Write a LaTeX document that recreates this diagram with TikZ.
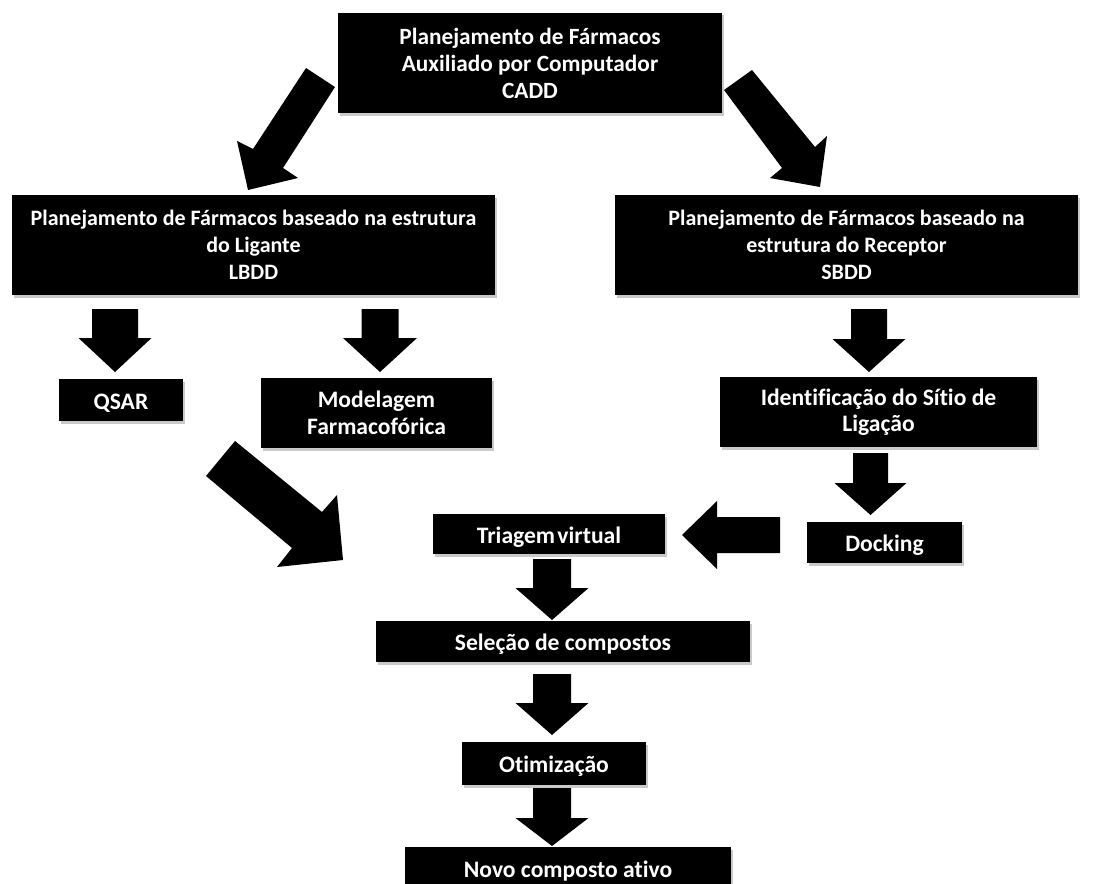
\documentclass[tikz,border=0pt]{standalone}
\usepackage{fontspec}
\setmainfont{Carlito}[Ligatures=NoCommon]
\usetikzlibrary{shadows}
\newcommand{\dn}[1]{\raisebox{-3pt}[\height][\depth]{#1}}
\tikzset{
  box/.style={fill=black, draw=none, text=white, align=center, inner sep=0pt,
    font=\fontsize{23.6}{26.5}\selectfont\bfseries,
    drop shadow={shadow xshift=2pt, shadow yshift=-2.5pt, opacity=0.35, fill=black!60}},
  bigbox/.style={box, font=\fontsize{22}{27}\selectfont\bfseries},
  topbox/.style={box, font=\fontsize{23.3}{27}\selectfont\bfseries},
  blk/.style={fill=black, draw=none}
}
% vertical down arrow: xc, top, base, tip, half shaft, half head
\newcommand{\downarr}[6]{%
  \fill[blk] (#1-#5,#2) -- (#1+#5,#2) -- (#1+#5,#3) -- (#1+#6,#3) -- (#1,#4)
    -- (#1-#6,#3) -- (#1-#5,#3) -- cycle;}
\begin{document}
\begin{tikzpicture}[x=1pt,y=-1pt]
\useasboundingbox (0,0) rectangle (1094,883);
\fill[white] (0,0) rectangle (1094,883);

% boxes
\node[topbox, minimum width=384pt, minimum height=100pt] (cadd) at (530,63)
  {Planejamento de Fármacos\\Auxiliado por Computador\\CADD};
\node[bigbox, minimum width=483pt, minimum height=100pt] (lbdd) at (253.5,245)
  {Planejamento de Fármacos baseado na estrutura\\do Ligante\\LBDD};
\node[bigbox, minimum width=463pt, minimum height=100pt] (sbdd) at (846.5,245)
  {Planejamento de Fármacos baseado na\\estrutura do Receptor\\SBDD};
\node[box, minimum width=124pt, minimum height=42pt] (qsar) at (121,400) {\dn{QSAR}};
\node[box, minimum width=231pt, minimum height=70pt] (mod) at (376.5,413)
  {Modelagem\\Farmacofórica};
\node[box, minimum width=317pt, minimum height=70pt] (ident) at (878.5,412)
  {Identificação do Sítio de\\Ligação};
\node[box, minimum width=155pt, minimum height=41pt] (dock) at (884.5,542.5) {\dn{Docking}};
\node[box, minimum width=232pt, minimum height=40pt] (tri) at (549,534) {\dn{Triagem\hspace{0.1em}virtual}};
\node[box, minimum width=374pt, minimum height=41pt] (sel) at (563,641.5) {\dn{Seleção de compostos}};
\node[box, minimum width=184pt, minimum height=43pt] (otim) at (554,763.5) {\dn{Otimização}};
\node[box, minimum width=326pt, minimum height=43pt] (novo) at (568,868.5) {\dn{Novo composto ativo}};

% diagonal arrows
\fill[blk] (306,68) -- (335,87) -- (283,168) -- (298,178) -- (248,190) -- (237,141) -- (253,149) -- cycle;
\fill[blk] (752,70) -- (724,90) -- (782,168) -- (770,178) -- (820,187) -- (827,136) -- (815,147) -- cycle;
\fill[blk] (235,441) -- (206,476) -- (292,548) -- (277,567) -- (343,560) -- (337,495) -- (322,512) -- cycle;

% vertical arrows
\downarr{115}{309}{338}{372}{23}{36.5}
\downarr{380}{309}{338}{372}{18.5}{37}
\downarr{869}{309}{339}{372}{18}{36.5}
\downarr{870.5}{453}{483}{515}{17.5}{36}
\downarr{552}{559}{588}{620}{19}{36.5}
\downarr{552}{674}{703}{735}{19}{36.5}
\downarr{552}{788}{818}{846}{19}{36.5}

% left arrow Docking -> Triagem
\fill[blk] (780,517) -- (780,553) -- (717,553) -- (717,569) -- (682,535) -- (717,501) -- (717,517) -- cycle;
\end{tikzpicture}
\end{document}
